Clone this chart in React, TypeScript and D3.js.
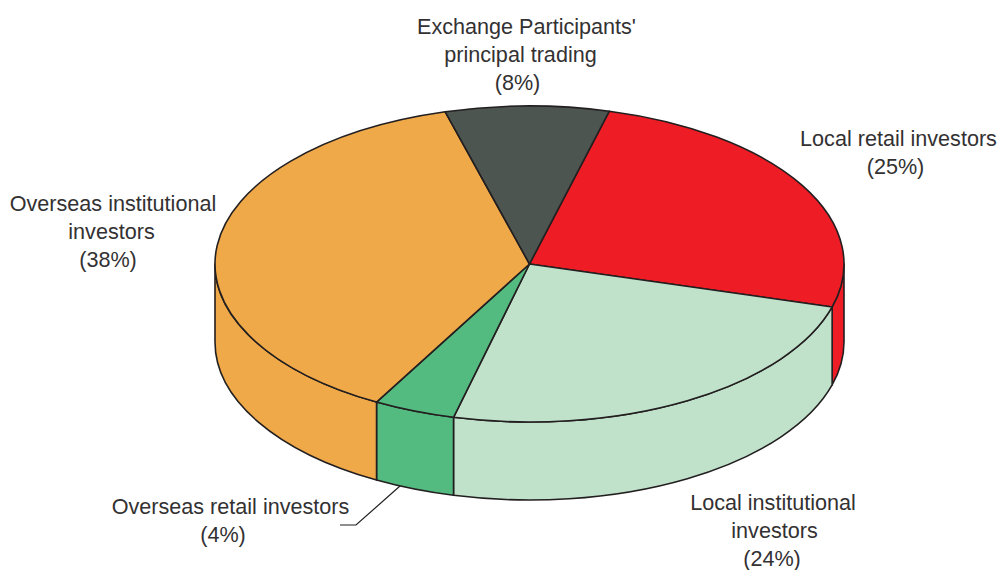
import React from 'react';
import * as d3 from 'd3';

const categories = [
  'Local retail investors',
  'Local institutional investors',
  'Overseas retail investors',
  'Overseas institutional investors',
  "Exchange Participants' principal trading",
];
// drawn shares, the printed labels are rounded
const shares = [25.3, 24.5, 4.2, 37.6, 8.4];
const labelLines = [
  ['Local retail investors', '(25%)'],
  ['Local institutional', 'investors', '(24%)'],
  ['Overseas retail investors', '(4%)'],
  ['Overseas institutional', 'investors', '(38%)'],
  ["Exchange Participants'", 'principal trading', '(8%)'],
];

const colors = ['#ee1c25', '#c0e2ca', '#54bb80', '#f0a948', '#4d5550'];
// centre x of every line, baseline y of the first line
const labelX = [
  [898.5, 895.5],
  [773, 774.5, 772],
  [230.5, 223],
  [113, 111.5, 108],
  [526.5, 520.5, 517.5],
];
const labelY = [145.7, 509.7, 513.7, 210.7, 33.7];
const WIDTH = 998;
const HEIGHT = 570;
const CX = 529.5;
const CY = 264;
const RX = 314.5;
const RY = 158;
const DEPTH = 78;
const START = (14.7 * Math.PI) / 180;
const LINE_H = 28;
const INK = '#231f20';

const px = (a: number) => CX + RX * Math.sin(a);
const py = (a: number) => CY - RY * Math.cos(a);

function topPath(a0: number, a1: number) {
  const large = a1 - a0 > Math.PI ? 1 : 0;
  return `M${CX},${CY}L${px(a0)},${py(a0)}A${RX},${RY} 0 ${large} 1 ${px(a1)},${py(a1)}Z`;
}

function wallPath(a0: number, a1: number) {
  const large = a1 - a0 > Math.PI ? 1 : 0;
  return (
    `M${px(a0)},${py(a0)}A${RX},${RY} 0 ${large} 1 ${px(a1)},${py(a1)}` +
    `L${px(a1)},${py(a1) + DEPTH}A${RX},${RY} 0 ${large} 0 ${px(a0)},${py(a0) + DEPTH}Z`
  );
}

export default function App() {
  const pie = d3
    .pie<number>()
    .value((d) => d)
    .sort(null)
    .startAngle(START)
    .endAngle(START + 2 * Math.PI);
  const arcs = pie(shares);

  // only the front half of the rim can be seen
  const walls = arcs
    .map((d, i) => ({
      i,
      a0: Math.max(d.startAngle, Math.PI / 2),
      a1: Math.min(d.endAngle, (3 * Math.PI) / 2),
    }))
    .filter((w) => w.a1 > w.a0);

  return (
    <svg
      width={WIDTH}
      height={HEIGHT}
      style={{ position: 'absolute', left: 0, top: 0, background: '#fff' }}
      fontFamily="'Liberation Sans', Arial, sans-serif"
    >
      <g stroke={INK} strokeWidth={1.6} strokeLinejoin="round">
        {walls.map((w) => (
          <path key={w.i} d={wallPath(w.a0, w.a1)} fill={colors[w.i]} />
        ))}
        {arcs.map((d, i) => (
          <path key={i} d={topPath(d.startAngle, d.endAngle)} fill={colors[i]}>
            <title>{categories[i]}</title>
          </path>
        ))}
      </g>
      <path d="M400,486L356,525H340" fill="none" stroke={INK} strokeWidth={1.2} />
      {labelLines.map((lines, i) => (
        <text key={i} y={labelY[i]} textAnchor="middle" fontSize={21.6} fill="#333132">
          {lines.map((line, j) => (
            <tspan key={j} x={labelX[i][j]} dy={j === 0 ? 0 : LINE_H}>
              {line}
            </tspan>
          ))}
        </text>
      ))}
    </svg>
  );
}
